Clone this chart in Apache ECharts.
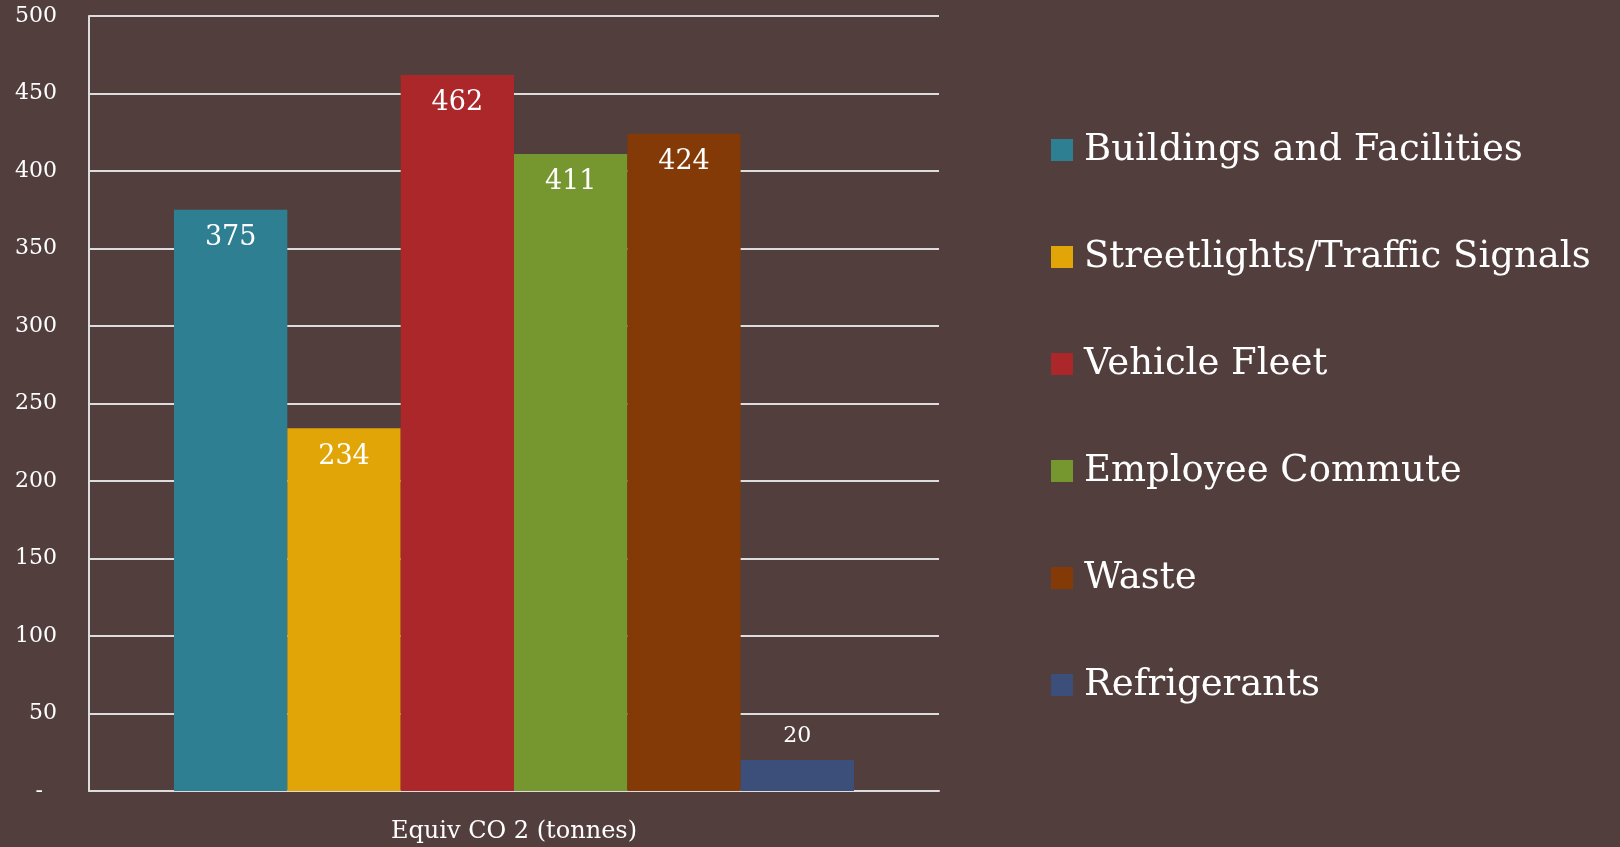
<!DOCTYPE html>
<html>
<head>
<meta charset="utf-8">
<script src="https://cdn.jsdelivr.net/npm/echarts@6/dist/echarts.min.js"></script>
<style>
  html, body { margin: 0; padding: 0; background: #523e3d; }
  #chart { width: 1620px; height: 847px; }
</style>
</head>
<body>
<div id="chart"></div>
<script>
var categories = ['Equiv CO 2 (tonnes)'];
var seriesNames = ['Buildings and Facilities', 'Streetlights/Traffic Signals', 'Vehicle Fleet', 'Employee Commute', 'Waste', 'Refrigerants'];
var seriesValues = [375, 234, 462, 411, 424, 20];
var colors = ['#2f7f93', '#e2a507', '#ab2729', '#76962f', '#843a06', '#3c4f7b'];

var fontFam = '"DejaVu Serif", serif';
var myChart = echarts.init(document.getElementById('chart'));

// one bar per series, all in the same category, touching each other
var series = seriesNames.map(function (name, i) {
    var v = seriesValues[i];
    var small = v < 50;
    return {
        name: name,
        type: 'bar',
        data: [v],
        barGap: 0,
        barCategoryGap: '20%',
        itemStyle: { color: colors[i] },
        label: {
            show: true,
            position: small ? 'top' : 'insideTop',
            distance: small ? 13 : 15,
            color: '#fff',
            fontFamily: fontFam,
            fontSize: small ? 22 : 27
        }
    };
});

var option = {
    backgroundColor: '#523e3d',
    animation: false,
    color: colors,
    textStyle: { fontFamily: fontFam },
    grid: { left: 89, top: 16, right: 681, bottom: 56 },
    legend: {
        orient: 'vertical',
        left: 1046,
        top: 125,
        icon: 'rect',
        itemWidth: 22,
        itemHeight: 22,
        itemGap: 67,
        textStyle: { color: '#fff', fontSize: 37, lineHeight: 40, fontFamily: fontFam, padding: [0, 0, 0, 6] },
        data: seriesNames
    },
    xAxis: {
        type: 'category',
        data: categories,
        axisTick: { show: false },
        axisLine: { lineStyle: { color: '#ddd', width: 2 } },
        axisLabel: { color: '#fff', fontSize: 24, margin: 29, fontFamily: fontFam }
    },
    yAxis: {
        type: 'value',
        min: 0,
        max: 500,
        interval: 50,
        axisLine: { show: true, lineStyle: { color: '#ddd', width: 2 } },
        axisTick: { show: false },
        splitLine: { lineStyle: { color: '#ddd', width: 2 } },
        axisLabel: {
            color: '#fff',
            fontSize: 22,
            margin: 32,
            fontFamily: fontFam,
            formatter: function (v) { return v === 0 ? '-  ' : v; }
        }
    },
    series: series
};
myChart.setOption(option);
</script>
</body>
</html>
